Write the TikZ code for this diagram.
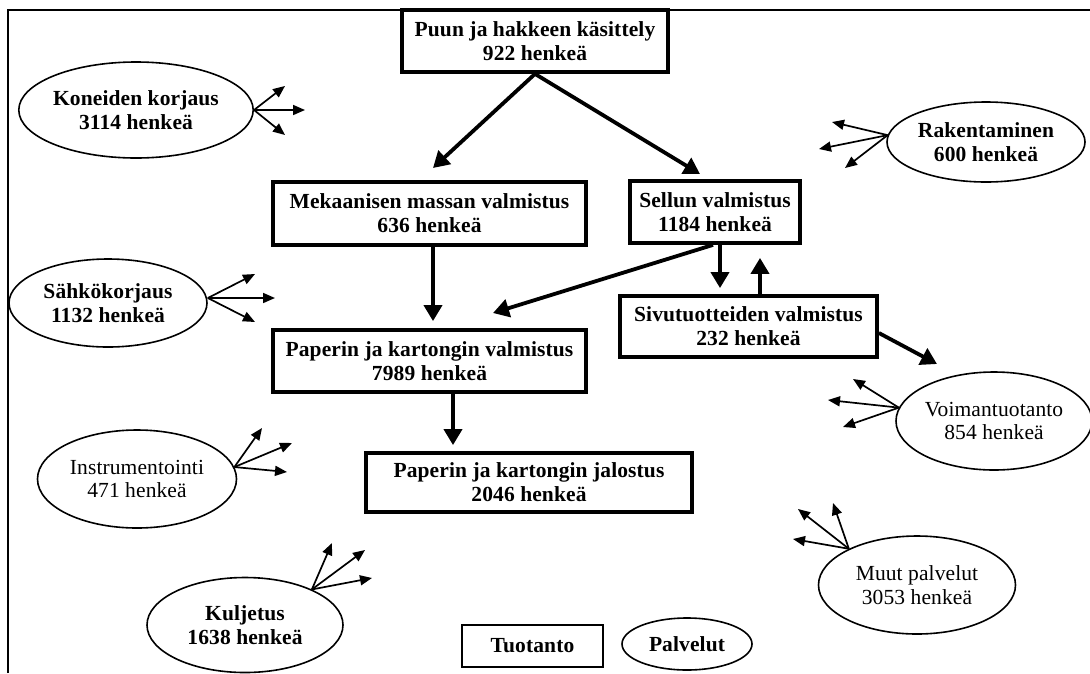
\documentclass[tikz,border=0pt]{standalone}
\usepackage{fontspec}
\setmainfont{Liberation Serif}[LetterSpace=0.5]
\usetikzlibrary{shapes.geometric,arrows.meta}
\begin{document}
\begin{tikzpicture}[x=1pt,y=-1pt,
  box/.style={draw, line width=3.8pt, rectangle, align=center, inner sep=0pt, font=\bfseries\fontsize{21.5}{24}\selectfont},
  svc/.style={draw, line width=1.6pt, ellipse, align=center, inner sep=0pt, font=\fontsize{21.5}{23.5}\selectfont},
  svcb/.style={svc, font=\bfseries\fontsize{21.5}{23.5}\selectfont},
  flow/.style={line width=3.8pt, -{Triangle[length=16pt,width=18pt]}},
  spoke/.style={line width=1.7pt, -{Triangle[length=12pt,width=10pt]}},
]
\useasboundingbox (0,0) rectangle (1090,673);
\coordinate (fa) at (8,673);
\coordinate (fb) at (8,10);
\coordinate (fc) at (1090,10);
\draw[line width=2pt] (fa) -- (fb) -- (fc);

% production boxes
\node[box, minimum width=266pt, minimum height=62pt] (puun) at (535,41) {Puun ja hakkeen käsittely\\922 henkeä};
\node[box, minimum width=313pt, minimum height=63pt] (mek) at (429.5,213.5) {Mekaanisen massan valmistus\\636 henkeä};
\node[box, minimum width=170pt, minimum height=62pt] (sel) at (715,212) {Sellun valmistus\\1184 henkeä};
\node[box, minimum width=313pt, minimum height=62pt] (pap) at (429.5,361) {Paperin ja kartongin valmistus\\7989 henkeä};
\node[box, minimum width=257pt, minimum height=61pt] (siv) at (748.5,326.5) {Sivutuotteiden valmistus\\232 henkeä};
\node[box, minimum width=326pt, minimum height=59pt] (jal) at (529,482.5) {Paperin ja kartongin jalostus\\2046 henkeä};

% legend
\node[draw, line width=1.6pt, minimum width=141pt, minimum height=42pt, inner sep=0pt, font=\bfseries\fontsize{21.5}{24}\selectfont] (tuo) at (532.5,646) {Tuotanto};
\node[svcb, minimum width=130pt, minimum height=52pt] (pal) at (687,644) {Palvelut};

% service ellipses
\node[svcb, minimum width=200pt, minimum height=96pt] (kone) at (136,110) {Koneiden korjaus\\3114 henkeä};
\node[svcb, minimum width=198pt, minimum height=88pt] (sahko) at (108,303) {Sähkökorjaus\\1132 henkeä};
\node[svc, minimum width=199pt, minimum height=98pt] (instr) at (137,479) {Instrumentointi\\471 henkeä};
\node[svcb, minimum width=196pt, minimum height=95pt] (kulj) at (245,625) {Kuljetus\\1638 henkeä};
\node[svcb, minimum width=198pt, minimum height=80pt] (rak) at (986,142) {Rakentaminen\\600 henkeä};
\node[svc, minimum width=196pt, minimum height=98pt] (voima) at (994,421) {Voimantuotanto\\854 henkeä};
\node[svc, minimum width=197pt, minimum height=98pt] (muut) at (917,585) {Muut palvelut\\3053 henkeä};

% main flow arrows
\coordinate (m1) at (433,168);
\coordinate (m2) at (700,174);
\coordinate (m3) at (493,313);
\coordinate (m4) at (937,364);
\draw[flow] (puun.south) -- (m1);
\draw[flow] (puun.south) -- (m2);
\draw[flow] ([xshift=3.5pt]mek.south) -- ([xshift=3.5pt]mek.south |- pap.north) [shorten >=7pt];
\draw[flow] ([xshift=-2pt]sel.south) -- (m3);
\draw[flow] ([xshift=5pt]sel.south) -- ([xshift=5pt]sel.south |- siv.north) [shorten >=6pt];
\draw[flow] ([xshift=11.5pt]siv.north) -- ([xshift=11.5pt]siv.north |- sel.south) [shorten >=13pt];
\draw[flow] ([yshift=-6.5pt]siv.east) -- (m4);
\draw[flow] ([xshift=23.5pt]pap.south) -- ([xshift=23.5pt]pap.south |- jal.north) [shorten >=6pt];

% service spokes
\coordinate (k1) at (285,86);  \coordinate (k2) at (305,110); \coordinate (k3) at (285,135);
\coordinate (s1) at (255,274); \coordinate (s2) at (275,298); \coordinate (s3) at (255,322);
\coordinate (i1) at (262,428); \coordinate (i2) at (292,443); \coordinate (i3) at (287,472);
\coordinate (j1) at (332,543); \coordinate (j2) at (365,550); \coordinate (j3) at (372,578);
\coordinate (r1) at (832,122); \coordinate (r2) at (819,149); \coordinate (r3) at (845,168);
\coordinate (v1) at (853,379); \coordinate (v2) at (828,400); \coordinate (v3) at (843,427);
\coordinate (u1) at (798,509); \coordinate (u2) at (833,503); \coordinate (u3) at (793,539);

\foreach \t in {k1,k2,k3} \draw[spoke] (kone.east) -- (\t);
\foreach \t in {s1,s2,s3} \draw[spoke] ([yshift=5pt]sahko.east) -- (\t);
\foreach \t in {i1,i2,i3} \draw[spoke] (instr.7) -- (\t);
\foreach \t in {j1,j2,j3} \draw[spoke] (kulj.28) -- (\t);
\foreach \t in {r1,r2,r3} \draw[spoke] (rak.176) -- (\t);
\foreach \t in {v1,v2,v3} \draw[spoke] (voima.172) -- (\t);
\foreach \t in {u1,u2,u3} \draw[spoke] (muut.152) -- (\t);
\end{tikzpicture}
\end{document}
